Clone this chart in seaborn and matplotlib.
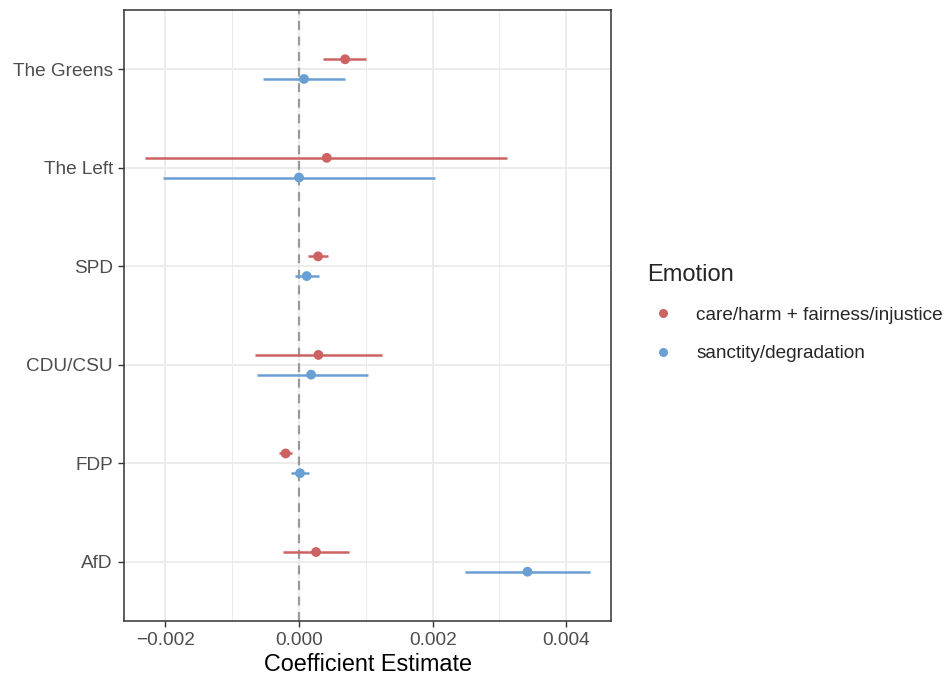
import numpy as np
import pandas as pd
import matplotlib
matplotlib.use("Agg")
import matplotlib.pyplot as plt
import seaborn as sns
from matplotlib.lines import Line2D

parties = ["AfD", "FDP", "CDU/CSU", "SPD", "The Left", "The Greens"]
emotions = ["care/harm + fairness/injustice", "sanctity/degradation"]

care_est = [0.000255, -0.00020, 0.00029, 0.000285, 0.000415, 0.00069]
care_lo = [-0.00024, -0.000295, -0.00066, 0.00014, -0.00230, 0.00036]
care_hi = [0.00075, -0.00011, 0.00124, 0.00043, 0.00312, 0.00101]

sanc_est = [0.00342, 0.000015, 0.00018, 0.000115, 0.0, 0.000075]
sanc_lo = [0.00248, -0.00012, -0.00063, -0.00006, -0.00203, -0.000535]
sanc_hi = [0.00436, 0.00015, 0.00103, 0.000295, 0.00203, 0.00069]

colors = {emotions[0]: "#CD6262", emotions[1]: "#6A9FD4"}

df = pd.DataFrame({
    "party": parties * 2,
    "emotion": [emotions[0]] * 6 + [emotions[1]] * 6,
    "est": care_est + sanc_est,
    "lo": care_lo + sanc_lo,
    "hi": care_hi + sanc_hi,
})
offset = {emotions[0]: 0.1, emotions[1]: -0.1}
df["y"] = df["party"].map({p: i for i, p in enumerate(parties)}) + df["emotion"].map(offset)

sns.set_theme(style="white")
plt.rcParams["font.family"] = ["Liberation Sans", "DejaVu Sans"]

fig = plt.figure(figsize=(9.48, 6.75), dpi=100)
ax = fig.add_axes([124 / 948, 1 - 621 / 675, (611 - 124) / 948, (621 - 10) / 675])

# grid
for v in np.arange(-0.003, 0.0051, 0.001):
    major = abs(round(v / 0.002) * 0.002 - v) < 1e-9
    ax.axvline(v, color="#EBEBEB", lw=1.3 if major else 0.7, zorder=0)
for i in range(len(parties)):
    ax.axhline(i, color="#EBEBEB", lw=1.3, zorder=0)

ax.axvline(0, color="#9A9A9A", lw=1.6, ls=(0, (4, 3)), zorder=1)

for emo in emotions:
    sub = df[df["emotion"] == emo]
    ax.hlines(sub["y"], sub["lo"], sub["hi"], color=colors[emo], lw=1.8, zorder=2)

sns.scatterplot(data=df, x="est", y="y", hue="emotion", palette=colors,
                s=50, edgecolor="none", ax=ax, zorder=3, legend=False)

ax.set_xlim(-0.00262, 0.00467)
ax.set_ylim(-0.6, 5.6)
ax.set_yticks(range(len(parties)))
ax.set_yticklabels(parties)
ax.set_xticks([-0.002, 0.0, 0.002, 0.004])
ax.set_xticklabels(["\u22120.002", "0.000", "0.002", "0.004"])
ax.tick_params(axis="both", labelsize=13.7, labelcolor="#4D4D4D", length=4,
               width=1, color="#333333", direction="out", left=True, bottom=True, pad=4)
ax.set_xlabel("Coefficient Estimate", fontsize=16.8, color="black", labelpad=3)
ax.set_ylabel("")
for s in ax.spines.values():
    s.set_color("#333333")
    s.set_linewidth(1.1)

handles = [Line2D([0], [0], marker="o", color="none", markerfacecolor=colors[e],
                  markeredgecolor="none", markersize=6.5) for e in emotions]
leg = fig.legend(handles, emotions, loc="upper left", bbox_to_anchor=(641 / 948, 1 - 258 / 675),
                 frameon=False, title="Emotion", fontsize=13.7, title_fontsize=17,
                 handletextpad=0.9, handlelength=1.7, labelspacing=1.1, borderaxespad=0,
                 borderpad=0.3)
leg._legend_box.align = "left"

fig.savefig("out.png", dpi=100)
